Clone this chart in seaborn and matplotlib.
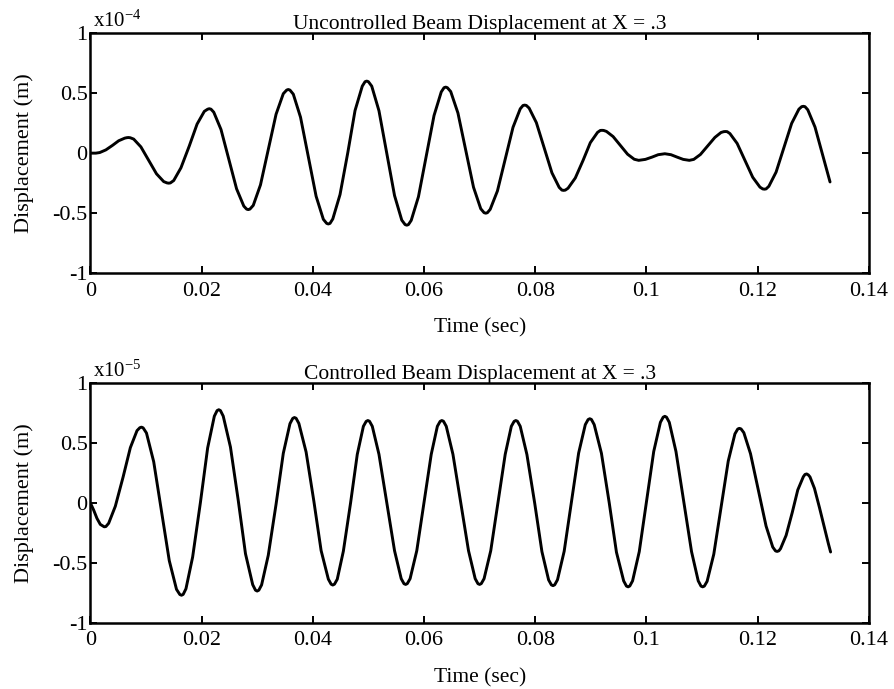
import seaborn as sns
import pandas as pd
import matplotlib.pyplot as plt
import matplotlib.ticker as mticker
import numpy as np

# values, displacement in units of 1e-4 m (upper) / 1e-5 m (lower)
time_upper = [0.0000, 0.0010, 0.0017, 0.0028, 0.0040, 0.0051, 0.0062, 0.0066, 0.0069, 0.0072,
	0.0078, 0.0091, 0.0105, 0.0119, 0.0132, 0.0138, 0.0141, 0.0144, 0.0150, 0.0163,
	0.0178, 0.0192, 0.0205, 0.0211, 0.0214, 0.0217, 0.0222, 0.0235, 0.0249, 0.0263,
	0.0276, 0.0281, 0.0284, 0.0287, 0.0293, 0.0306, 0.0320, 0.0334, 0.0347, 0.0353,
	0.0356, 0.0359, 0.0365, 0.0378, 0.0392, 0.0406, 0.0419, 0.0425, 0.0428, 0.0431,
	0.0436, 0.0449, 0.0463, 0.0476, 0.0489, 0.0494, 0.0497, 0.0500, 0.0506, 0.0519,
	0.0533, 0.0547, 0.0560, 0.0566, 0.0569, 0.0572, 0.0577, 0.0590, 0.0604, 0.0618,
	0.0631, 0.0636, 0.0639, 0.0642, 0.0648, 0.0661, 0.0675, 0.0689, 0.0702, 0.0708,
	0.0711, 0.0714, 0.0719, 0.0732, 0.0746, 0.0760, 0.0773, 0.0778, 0.0781, 0.0784,
	0.0789, 0.0802, 0.0816, 0.0830, 0.0843, 0.0848, 0.0851, 0.0854, 0.0859, 0.0872,
	0.0886, 0.0899, 0.0912, 0.0917, 0.0920, 0.0923, 0.0928, 0.0940, 0.0953, 0.0966,
	0.0978, 0.0986, 0.0998, 0.1010, 0.1021, 0.1033, 0.1044, 0.1055, 0.1066, 0.1077,
	0.1085, 0.1097, 0.1110, 0.1123, 0.1134, 0.1139, 0.1142, 0.1145, 0.1150, 0.1163,
	0.1177, 0.1191, 0.1204, 0.1209, 0.1212, 0.1215, 0.1220, 0.1233, 0.1247, 0.1261,
	0.1274, 0.1279, 0.1282, 0.1285, 0.1290, 0.1303, 0.1317, 0.1330]
disp_upper = [0.000, 0.000, 0.005, 0.027, 0.065, 0.103, 0.125, 0.129, 0.130, 0.128,
	0.117, 0.052, -0.060, -0.172, -0.237, -0.248, -0.250, -0.248, -0.228, -0.122,
	0.060, 0.242, 0.348, 0.366, 0.370, 0.366, 0.341, 0.197, -0.050, -0.297,
	-0.441, -0.466, -0.470, -0.466, -0.435, -0.264, 0.030, 0.324, 0.495, 0.525,
	0.530, 0.525, 0.491, 0.299, -0.030, -0.359, -0.551, -0.585, -0.590, -0.585,
	-0.548, -0.345, 0.005, 0.355, 0.558, 0.595, 0.600, 0.595, 0.558, 0.353,
	0.000, -0.353, -0.558, -0.595, -0.600, -0.595, -0.560, -0.363, -0.025, 0.313,
	0.510, 0.545, 0.550, 0.545, 0.513, 0.334, 0.025, -0.284, -0.463, -0.496,
	-0.500, -0.496, -0.468, -0.315, -0.050, 0.215, 0.369, 0.397, 0.400, 0.397,
	0.375, 0.254, 0.045, -0.164, -0.285, -0.308, -0.310, -0.308, -0.292, -0.207,
	-0.060, 0.087, 0.173, 0.189, 0.190, 0.189, 0.181, 0.138, 0.065, -0.009,
	-0.051, -0.060, -0.052, -0.033, -0.013, -0.005, -0.013, -0.033, -0.052, -0.060,
	-0.052, -0.011, 0.060, 0.131, 0.172, 0.179, 0.180, 0.179, 0.163, 0.081,
	-0.060, -0.201, -0.283, -0.298, -0.300, -0.298, -0.276, -0.158, 0.045, 0.248,
	0.366, 0.387, 0.390, 0.387, 0.361, 0.217, -0.020, -0.240]

time_lower = [0.0000, 0.0006, 0.0012, 0.0018, 0.0025, 0.0028, 0.0033, 0.0045, 0.0059, 0.0072,
	0.0084, 0.0089, 0.0092, 0.0095, 0.0101, 0.0114, 0.0128, 0.0142, 0.0155, 0.0161,
	0.0164, 0.0167, 0.0172, 0.0184, 0.0198, 0.0211, 0.0223, 0.0228, 0.0231, 0.0234,
	0.0239, 0.0252, 0.0266, 0.0279, 0.0292, 0.0297, 0.0300, 0.0303, 0.0308, 0.0320,
	0.0334, 0.0347, 0.0359, 0.0364, 0.0367, 0.0370, 0.0375, 0.0388, 0.0402, 0.0415,
	0.0428, 0.0433, 0.0436, 0.0439, 0.0444, 0.0455, 0.0468, 0.0480, 0.0491, 0.0496,
	0.0499, 0.0502, 0.0507, 0.0519, 0.0533, 0.0547, 0.0559, 0.0564, 0.0567, 0.0570,
	0.0575, 0.0587, 0.0600, 0.0613, 0.0624, 0.0629, 0.0632, 0.0635, 0.0640, 0.0652,
	0.0666, 0.0680, 0.0692, 0.0697, 0.0700, 0.0703, 0.0708, 0.0720, 0.0733, 0.0746,
	0.0757, 0.0762, 0.0765, 0.0768, 0.0773, 0.0785, 0.0799, 0.0812, 0.0824, 0.0829,
	0.0832, 0.0835, 0.0840, 0.0852, 0.0865, 0.0878, 0.0890, 0.0895, 0.0898, 0.0901,
	0.0906, 0.0919, 0.0933, 0.0946, 0.0959, 0.0964, 0.0967, 0.0970, 0.0975, 0.0987,
	0.1000, 0.1013, 0.1025, 0.1030, 0.1033, 0.1036, 0.1041, 0.1053, 0.1067, 0.1081,
	0.1093, 0.1098, 0.1101, 0.1104, 0.1109, 0.1121, 0.1134, 0.1147, 0.1159, 0.1164,
	0.1167, 0.1170, 0.1175, 0.1187, 0.1201, 0.1215, 0.1227, 0.1232, 0.1235, 0.1238,
	0.1241, 0.1251, 0.1262, 0.1272, 0.1282, 0.1285, 0.1288, 0.1291, 0.1294, 0.1302,
	0.1311, 0.1320, 0.1327, 0.1331]
disp_lower = [0.000, -0.060, -0.130, -0.180, -0.200, -0.198, -0.171, -0.029, 0.215, 0.459,
	0.601, 0.625, 0.630, 0.624, 0.581, 0.342, -0.070, -0.482, -0.721, -0.764,
	-0.770, -0.763, -0.716, -0.452, 0.003, 0.457, 0.721, 0.768, 0.775, 0.768,
	0.722, 0.464, 0.020, -0.424, -0.682, -0.728, -0.735, -0.728, -0.684, -0.437,
	-0.012, 0.412, 0.659, 0.703, 0.710, 0.704, 0.661, 0.423, 0.012, -0.398,
	-0.636, -0.678, -0.685, -0.678, -0.637, -0.403, 0.000, 0.403, 0.637, 0.678,
	0.685, 0.679, 0.637, 0.404, 0.002, -0.399, -0.632, -0.674, -0.680, -0.673,
	-0.632, -0.399, 0.003, 0.404, 0.637, 0.678, 0.685, 0.679, 0.637, 0.404,
	0.002, -0.399, -0.632, -0.674, -0.680, -0.673, -0.632, -0.399, 0.003, 0.404,
	0.637, 0.678, 0.685, 0.679, 0.637, 0.402, -0.003, -0.407, -0.642, -0.684,
	-0.690, -0.683, -0.641, -0.404, 0.005, 0.414, 0.651, 0.693, 0.700, 0.694,
	0.651, 0.412, 0.000, -0.412, -0.651, -0.694, -0.700, -0.693, -0.650, -0.407,
	0.010, 0.427, 0.670, 0.713, 0.720, 0.713, 0.670, 0.427, 0.010, -0.407,
	-0.650, -0.694, -0.700, -0.694, -0.654, -0.428, -0.040, 0.348, 0.574, 0.614,
	0.620, 0.615, 0.584, 0.409, 0.107, -0.194, -0.369, -0.401, -0.405, -0.400,
	-0.382, -0.272, -0.082, 0.107, 0.217, 0.236, 0.240, 0.232, 0.215, 0.120,
	-0.040, -0.210, -0.340, -0.410]

titles = ["Uncontrolled Beam Displacement at X = .3", "Controlled Beam Displacement at X = .3"]
scales = [r"x10$^{-4}$", r"x10$^{-5}$"]
x_ticks = [0, 0.02, 0.04, 0.06, 0.08, 0.1, 0.12, 0.14]
y_ticks = [-1, -0.5, 0, 0.5, 1]


def draw_panel(ax, t, d, title, scale):
	sns.lineplot(x=t, y=d, ax=ax, color="black", linewidth=2.1, estimator=None, sort=False)
	ax.set_xlim(0, 0.14)
	ax.set_ylim(-1, 1)
	ax.set_xticks(x_ticks)
	ax.set_yticks(y_ticks)
	fmt = mticker.FuncFormatter(lambda v, p: "%g" % v)
	ax.xaxis.set_major_formatter(fmt)
	ax.yaxis.set_major_formatter(fmt)
	ax.tick_params(direction="in", length=5, width=1.4, top=True, right=True,
		labelsize=16, colors="black")
	ax.tick_params(axis="x", pad=6)
	ax.tick_params(axis="y", pad=2)
	for s in ax.spines.values():
		s.set_linewidth(1.8)
		s.set_color("black")
	ax.set_title(title, fontsize=15.5, pad=3, color="black")
	ax.text(0.003, 1.005, scale, transform=ax.transAxes, fontsize=15, ha="left", va="bottom",
		color="black")
	ax.set_xlabel("Time (sec)", fontsize=15.5, labelpad=13, color="black")
	ax.set_ylabel("Displacement (m)", fontsize=16, labelpad=13, color="black")


sns.set_style("ticks")
plt.rcParams["font.family"] = ["Liberation Serif", "DejaVu Serif"]
plt.rcParams["mathtext.fontset"] = "custom"
plt.rcParams["mathtext.rm"] = "Liberation Serif"
plt.rcParams["mathtext.it"] = "Liberation Serif:italic"
plt.rcParams["text.color"] = "black"

fig, axes = plt.subplots(2, 1, figsize=(8.94, 6.89), dpi=100)
fig.subplots_adjust(left=0.101, right=0.972, top=0.952, bottom=0.096, hspace=0.456)
draw_panel(axes[0], time_upper, disp_upper, titles[0], scales[0])
draw_panel(axes[1], time_lower, disp_lower, titles[1], scales[1])

fig.savefig("out.png", dpi=100)
